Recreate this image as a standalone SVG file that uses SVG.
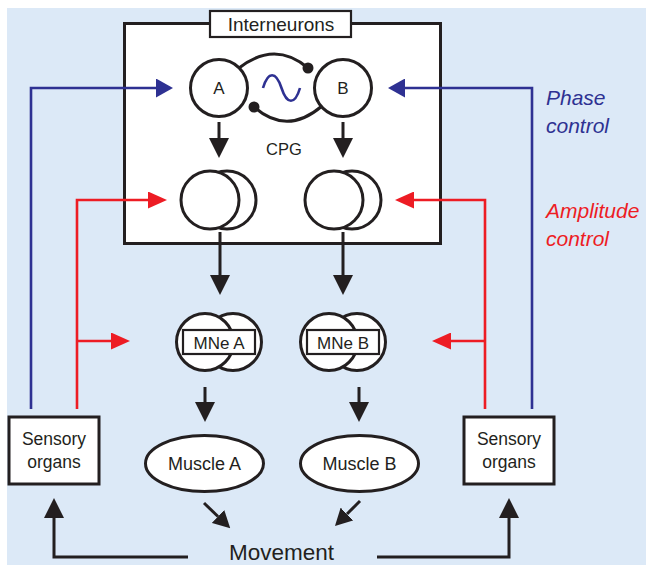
<svg xmlns="http://www.w3.org/2000/svg" width="646" height="565" viewBox="0 0 646 565">
  <defs>
    <style>
      .bg { fill: #dce9f7; }
      .box { fill: #ffffff; stroke: #231f20; stroke-width: 3; }
      .thin { fill: #ffffff; stroke: #231f20; stroke-width: 2.2; }
      .cell { fill: #ffffff; stroke: #231f20; stroke-width: 3; }
      .lbl { font-family: "Liberation Sans", Arial, sans-serif; fill: #231f20; text-anchor: middle; }
      .k { fill: none; stroke: #231f20; stroke-width: 3; }
      .blue { fill: none; stroke: #2e3192; stroke-width: 2.6; }
      .red { fill: none; stroke: #ed1c24; stroke-width: 2.6; }
      .note { font-family: "Liberation Sans", Arial, sans-serif; font-style: italic; font-size: 21px; }
    </style>
    <marker id="ak" markerUnits="userSpaceOnUse" markerWidth="20" markerHeight="20" refX="0" refY="10" orient="auto">
      <path d="M0,0 L20,10 L0,20 Z" fill="#231f20"/>
    </marker>
    <marker id="aks" markerUnits="userSpaceOnUse" markerWidth="17" markerHeight="18" refX="0" refY="9" orient="auto">
      <path d="M0,0 L17,9 L0,18 Z" fill="#231f20"/>
    </marker>
    <marker id="ab" markerUnits="userSpaceOnUse" markerWidth="17" markerHeight="19" refX="0" refY="9.5" orient="auto">
      <path d="M0,0 L17,9.5 L0,19 Z" fill="#2e3192"/>
    </marker>
    <marker id="ar" markerUnits="userSpaceOnUse" markerWidth="19" markerHeight="17" refX="0" refY="8.5" orient="auto">
      <path d="M0,0 L19,8.5 L0,17 Z" fill="#ed1c24"/>
    </marker>
  </defs>

  <!-- background panel -->
  <rect class="bg" x="7" y="8" width="639" height="557"/>

  <!-- CPG enclosure -->
  <g id="cpg-box">
    <rect class="box" x="124.5" y="23.5" width="316" height="220"/>
    <text class="lbl" x="284" y="155" font-size="16.5">CPG</text>
  </g>

  <g id="interneurons-label">
    <rect class="thin" x="210" y="11" width="141" height="26"/>
    <text class="lbl" x="281" y="30.5" font-size="19">Interneurons</text>
  </g>

  <!-- reciprocal inhibition between half-centres -->
  <g id="cpg-coupling">
    <path class="k" d="M239,68 Q275,40 308,68"/>
    <path class="k" d="M254,107 Q287,136 322,106"/>
    <circle cx="308" cy="68" r="5.5" fill="#231f20"/>
    <circle cx="254" cy="107" r="5.5" fill="#231f20"/>
    <path d="M263,88 C268,71 276,71 281.5,88 S295,105 300,88" fill="none" stroke="#2e3192" stroke-width="2.6"/>
  </g>

  <g id="neuron-a">
    <circle class="cell" cx="219" cy="88" r="28.5"/>
    <text class="lbl" x="219" y="94" font-size="17">A</text>
  </g>
  <g id="neuron-b">
    <circle class="cell" cx="343" cy="88" r="28.5"/>
    <text class="lbl" x="343" y="94" font-size="17">B</text>
  </g>

  <g id="interneuron-pool-a">
    <circle class="cell" cx="227" cy="200" r="29"/>
    <circle class="cell" cx="210" cy="200" r="29"/>
  </g>
  <g id="interneuron-pool-b">
    <circle class="cell" cx="352" cy="200" r="29"/>
    <circle class="cell" cx="334" cy="200" r="29"/>
  </g>

  <!-- motoneuron pools -->
  <g id="mne-a">
    <circle class="cell" cx="233" cy="342" r="28.5"/>
    <circle class="cell" cx="205" cy="342" r="28.5"/>
    <rect class="thin" x="183" y="330" width="72" height="24"/>
    <text class="lbl" x="219" y="348.5" font-size="17">MNe A</text>
  </g>
  <g id="mne-b">
    <circle class="cell" cx="357" cy="342" r="28.5"/>
    <circle class="cell" cx="329" cy="342" r="28.5"/>
    <rect class="thin" x="307" y="330" width="72" height="24"/>
    <text class="lbl" x="343" y="348.5" font-size="17">MNe B</text>
  </g>

  <g id="muscle-a">
    <ellipse class="cell" cx="204.5" cy="463.5" rx="59" ry="28"/>
    <text class="lbl" x="204.5" y="470" font-size="18">Muscle A</text>
  </g>
  <g id="muscle-b">
    <ellipse class="cell" cx="359.5" cy="463.5" rx="59" ry="28"/>
    <text class="lbl" x="359.5" y="470" font-size="18">Muscle B</text>
  </g>

  <g id="sensory-left">
    <rect class="box" x="9" y="417" width="90" height="67"/>
    <text class="lbl" x="54" y="445" font-size="17.5">Sensory</text>
    <text class="lbl" x="54" y="468" font-size="17.5">organs</text>
  </g>
  <g id="sensory-right">
    <rect class="box" x="464" y="417" width="90" height="67"/>
    <text class="lbl" x="509" y="445" font-size="17.5">Sensory</text>
    <text class="lbl" x="509" y="468" font-size="17.5">organs</text>
  </g>

  <g id="movement">
    <text class="lbl" x="281.5" y="560" font-size="22.5">Movement</text>
  </g>

  <g id="legend">
    <text class="note" fill="#2e3192" x="546" y="105">Phase</text>
    <text class="note" fill="#2e3192" x="546" y="133">control</text>
    <text class="note" fill="#ed1c24" x="546" y="218">Amplitude</text>
    <text class="note" fill="#ed1c24" x="546" y="246">control</text>
  </g>

  <g id="connectors">
    <!-- descending drive -->
    <path class="k" d="M219,122 V138" marker-end="url(#ak)"/>
    <path class="k" d="M343,122 V138" marker-end="url(#ak)"/>
    <path class="k" d="M220,232 V275" marker-end="url(#ak)"/>
    <path class="k" d="M343,232 V275" marker-end="url(#ak)"/>
    <path class="k" d="M205,387 V402" marker-end="url(#ak)"/>
    <path class="k" d="M359,387 V402" marker-end="url(#ak)"/>
    <path class="k" d="M204,503 L218,516.5" marker-end="url(#aks)"/>
    <path class="k" d="M360,501 L347,514" marker-end="url(#aks)"/>
    <!-- movement feedback to sensors -->
    <path class="k" d="M188,557 H54 V518" marker-end="url(#ak)"/>
    <path class="k" d="M377,557 H509 V518" marker-end="url(#ak)"/>
    <!-- phase control -->
    <path class="blue" d="M31,409 V88 H156" marker-end="url(#ab)"/>
    <path class="blue" d="M532,409 V88 H405" marker-end="url(#ab)"/>
    <!-- amplitude control -->
    <path class="red" d="M77,409 V200 H148" marker-end="url(#ar)"/>
    <path class="red" d="M77,341 H111" marker-end="url(#ar)"/>
    <path class="red" d="M485,409 V200 H414" marker-end="url(#ar)"/>
    <path class="red" d="M485,341 H451" marker-end="url(#ar)"/>
  </g>
</svg>
